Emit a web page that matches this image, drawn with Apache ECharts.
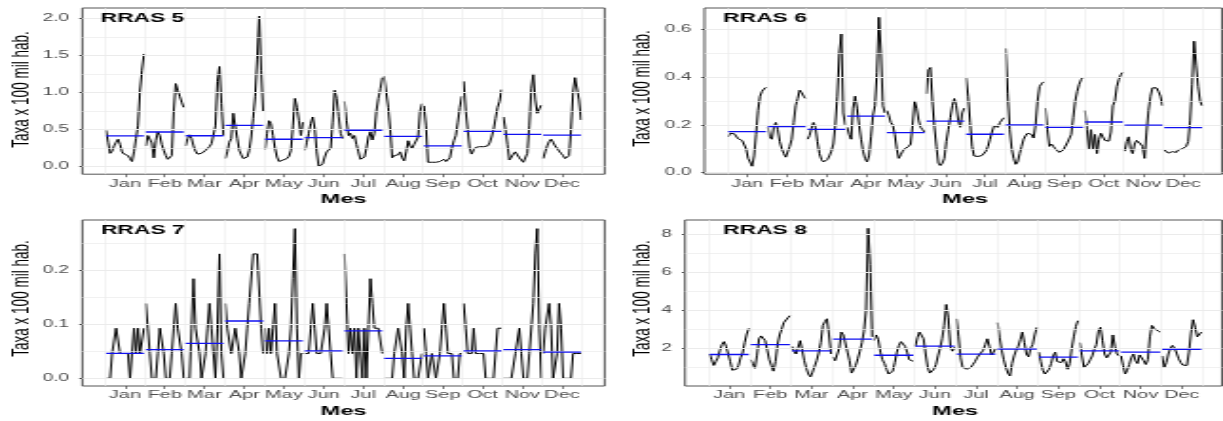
<!DOCTYPE html>
<html>
<head>
<meta charset="utf-8">
<script src="https://cdn.jsdelivr.net/npm/echarts@6.0.0/dist/echarts.min.js"></script>
<style>
  html, body { margin: 0; padding: 0; background: #fff; overflow: hidden; }
  #stage { width: 1223px; height: 421px; overflow: hidden; position: relative; background: #fff; }
  #chart { width: 644px; height: 421px; transform-origin: 0 0; }
</style>
</head>
<body>
<div id="stage"><div id="chart"></div></div>
<script>
// Month labels of the seasonal subseries axis
const monthNames = ['Jan', 'Feb', 'Mar', 'Apr', 'May', 'Jun', 'Jul', 'Aug', 'Sep', 'Oct', 'Nov', 'Dec'];

// Rate per 100k inhabitants, one sub-array per month, one value per year
const rras5 = [
  [0.49,0.33,0.18,0.21,0.28,0.33,0.37,0.30,0.20,0.17,0.16,0.15,0.11,0.07,0.20,0.38,0.55,1.02,1.30,1.52],
  [0.28,0.42,0.44,0.32,0.12,0.35,0.47,0.42,0.30,0.22,0.15,0.10,0.10,0.15,0.75,1.12,1.03,0.95,0.87,0.80],
  [0.28,0.38,0.43,0.38,0.28,0.21,0.17,0.16,0.18,0.20,0.22,0.24,0.27,0.31,0.32,0.55,1.15,1.35,0.85,0.42],
  [0.11,0.20,0.33,0.38,0.72,0.55,0.38,0.22,0.16,0.11,0.10,0.13,0.22,0.40,0.65,0.95,1.45,2.03,1.30,0.75],
  [0.23,0.45,0.62,0.58,0.42,0.25,0.13,0.07,0.08,0.09,0.10,0.11,0.14,0.22,0.55,0.92,0.80,0.62,0.42,0.60],
  [0.22,0.33,0.45,0.58,0.67,0.52,0.20,0.00,0.00,0.04,0.13,0.20,0.20,0.25,0.60,1.03,0.92,0.68,0.45,0.38],
  [0.88,0.62,0.42,0.45,0.38,0.42,0.30,0.20,0.10,0.08,0.13,0.25,0.40,0.47,0.36,0.45,0.75,0.92,1.05,1.20],
  [1.22,1.00,0.80,0.50,0.12,0.15,0.14,0.16,0.20,0.12,0.08,0.20,0.35,0.28,0.25,0.30,0.28,0.40,0.75,0.85],
  [0.82,0.55,0.06,0.06,0.06,0.06,0.06,0.07,0.07,0.09,0.10,0.07,0.08,0.12,0.25,0.35,0.42,0.60,0.80,0.95],
  [1.15,0.76,0.50,0.25,0.17,0.23,0.26,0.26,0.27,0.27,0.27,0.27,0.28,0.32,0.40,0.50,0.65,0.80,0.88,1.04],
  [0.67,0.50,0.30,0.09,0.07,0.17,0.20,0.16,0.12,0.09,0.06,0.05,0.18,0.55,1.05,1.25,0.90,0.72,0.78,0.83],
  [0.11,0.20,0.28,0.34,0.37,0.33,0.28,0.25,0.21,0.18,0.15,0.11,0.10,0.15,0.50,1.00,1.20,1.22,0.90,0.63]
];

const rras6 = [
  [0.150,0.165,0.167,0.163,0.155,0.142,0.138,0.135,0.140,0.100,0.060,0.045,0.027,0.070,0.160,0.260,0.320,0.340,0.350,0.357],
  [0.190,0.150,0.140,0.190,0.210,0.180,0.130,0.100,0.080,0.065,0.065,0.110,0.140,0.210,0.280,0.310,0.345,0.335,0.320,0.310],
  [0.140,0.155,0.185,0.210,0.190,0.130,0.080,0.055,0.045,0.045,0.055,0.070,0.090,0.120,0.200,0.320,0.500,0.580,0.250,0.200],
  [0.190,0.160,0.140,0.270,0.320,0.270,0.200,0.140,0.090,0.060,0.045,0.070,0.150,0.240,0.280,0.420,0.650,0.500,0.280,0.250],
  [0.260,0.240,0.210,0.200,0.160,0.100,0.060,0.075,0.090,0.100,0.105,0.110,0.120,0.200,0.300,0.270,0.220,0.190,0.180,0.170],
  [0.330,0.430,0.440,0.300,0.190,0.110,0.040,0.030,0.040,0.060,0.130,0.180,0.230,0.280,0.310,0.280,0.220,0.190,0.250,0.270],
  [0.400,0.320,0.210,0.110,0.070,0.067,0.068,0.070,0.072,0.076,0.090,0.110,0.140,0.170,0.195,0.200,0.190,0.210,0.220,0.230],
  [0.520,0.330,0.180,0.100,0.060,0.035,0.045,0.080,0.110,0.140,0.155,0.165,0.170,0.160,0.145,0.200,0.300,0.360,0.372,0.380],
  [0.270,0.180,0.110,0.120,0.110,0.100,0.095,0.085,0.080,0.095,0.110,0.125,0.130,0.160,0.230,0.300,0.340,0.370,0.390,0.400],
  [0.260,0.180,0.100,0.180,0.100,0.160,0.080,0.140,0.165,0.150,0.135,0.130,0.132,0.170,0.280,0.300,0.360,0.390,0.410,0.420],
  [0.090,0.130,0.150,0.100,0.080,0.120,0.135,0.130,0.120,0.110,0.060,0.170,0.260,0.320,0.355,0.360,0.355,0.340,0.320,0.280],
  [0.095,0.088,0.082,0.085,0.088,0.080,0.085,0.095,0.100,0.100,0.095,0.110,0.130,0.220,0.370,0.550,0.450,0.360,0.300,0.280]
];

const rras7 = [
  [0,0,0,0.046,0.046,0.093,0.093,0.046,0.046,0.046,0.046,0.046,0,0,0.093,0.046,0.093,0.046,0.046,0.093],
  [0.139,0.093,0.046,0,0,0,0.046,0.093,0.093,0.046,0,0,0,0.046,0.093,0.139,0.093,0.093,0.046,0],
  [0,0,0,0.093,0.185,0.093,0.093,0.046,0,0,0.046,0.093,0.139,0.093,0.046,0,0.093,0.231,0.046,0],
  [0.139,0.093,0.093,0.046,0.046,0.093,0.093,0.046,0,0,0.046,0.093,0.139,0.139,0.231,0.231,0.231,0.231,0.093,0.046],
  [0.093,0.046,0.093,0.046,0.093,0.139,0.046,0.046,0,0,0,0,0.046,0.093,0.185,0.278,0.093,0,0.046,0.046],
  [0.046,0.046,0.046,0.093,0.139,0.093,0.046,0.046,0.046,0.046,0.093,0.139,0.093,0.046,0,0,0,0,0,0],
  [0.231,0.139,0.046,0.093,0.046,0.093,0,0.093,0.093,0,0.093,0,0.093,0.185,0.139,0.093,0.093,0.093,0.093,0.046],
  [0,0,0,0,0,0.046,0.046,0.093,0.093,0.046,0,0.093,0.139,0.093,0.046,0,0,0,0,0.046],
  [0.093,0.046,0,0,0.046,0.046,0,0,0.046,0.093,0.139,0.093,0.046,0.046,0.046,0,0,0,0.046,0.046],
  [0.139,0.093,0.046,0.046,0.046,0.093,0.046,0.046,0.046,0.046,0.046,0,0,0,0,0,0.046,0.093,0.093,0.093],
  [0,0,0,0,0,0,0.046,0.046,0.093,0.046,0,0,0,0.046,0.046,0.139,0.231,0.278,0.093,0],
  [0.046,0.093,0.093,0.139,0.093,0,0,0.046,0.139,0.093,0,0,0,0,0,0.046,0.046,0.046,0.046,0.046]
];

const rras8 = [
  [1.70,1.40,1.10,1.30,1.50,1.90,2.20,2.35,2.10,1.70,1.30,0.85,0.75,0.90,1.10,1.50,1.75,2.30,2.75,3.05],
  [1.40,1.20,0.95,1.60,2.50,2.65,2.55,2.40,1.90,1.40,1.10,0.80,1.30,2.20,2.70,3.00,3.35,3.45,3.60,3.72],
  [2.10,1.85,1.70,2.05,2.40,1.90,1.35,0.95,0.65,0.50,0.75,1.05,1.35,1.75,2.30,3.20,3.40,3.55,2.70,1.70],
  [1.55,1.35,1.25,2.00,2.85,2.70,2.60,1.80,1.35,0.70,0.65,1.10,1.45,1.85,2.30,2.90,4.00,8.30,6.40,2.60],
  [2.40,2.70,2.45,1.80,1.40,1.20,0.90,0.65,0.55,0.80,1.25,1.80,2.15,2.35,2.40,2.10,1.80,1.40,1.30,1.32],
  [2.10,2.55,2.85,2.95,2.50,1.70,1.00,0.70,0.62,0.90,1.15,1.60,2.00,2.50,3.20,4.30,3.60,2.10,1.85,2.05],
  [3.55,2.60,1.50,1.00,0.95,0.90,0.88,1.00,1.15,1.30,1.50,1.65,1.70,1.90,2.20,2.50,2.10,1.65,1.80,2.00],
  [3.35,2.55,1.90,1.40,1.00,0.70,0.55,1.20,1.60,1.90,2.10,2.45,2.85,2.30,1.70,1.55,2.00,2.20,2.70,3.10],
  [1.80,1.30,0.85,0.65,0.70,0.90,1.20,1.60,1.80,1.30,1.35,1.25,1.45,1.30,0.90,1.20,2.00,2.60,3.15,3.45],
  [2.30,1.60,1.00,1.05,1.20,1.40,1.60,1.95,2.20,2.90,3.10,2.40,1.70,1.50,1.45,1.80,2.70,2.10,1.70,1.60],
  [1.60,1.10,0.65,0.85,1.15,1.50,1.70,1.35,1.20,1.65,1.70,1.35,1.15,1.40,2.60,3.20,3.05,2.95,2.90,2.85],
  [1.60,1.00,1.25,1.70,2.00,2.15,2.00,1.75,1.45,1.25,1.12,1.10,1.10,1.80,2.80,3.50,3.10,2.60,2.70,2.85]
];

// Y tick labels and grid line values of each panel
const yTicks5 = [0, 0.5, 1, 1.5, 2];
const yGrid5 = [0, 0.25, 0.5, 0.75, 1, 1.25, 1.5, 1.75, 2];
const yTicks6 = [0, 0.2, 0.4, 0.6];
const yGrid6 = [0, 0.1, 0.2, 0.3, 0.4, 0.5, 0.6];
const yTicks7 = [0, 0.1, 0.2];
const yGrid7 = [0, 0.05, 0.1, 0.15, 0.2, 0.25];
const yTicks8 = [2, 4, 6, 8];
const yGrid8 = [1, 2, 3, 4, 5, 6, 7, 8];
const xTicks = [1.5, 2.5, 3.5, 4.5, 5.5, 6.5, 7.5, 8.5, 9.5, 10.5, 11.5, 12.5];
const xGrid = [1, 2, 3, 4, 5, 6, 7, 8, 9, 10, 11, 12, 13];

// The drawing is laid out narrow and widened horizontally
const SX = 1223 / 644;
const chartEl = document.getElementById('chart');
chartEl.style.transform = 'scaleX(' + SX + ')';

const FONT = '"Liberation Sans", Arial, Helvetica, sans-serif';
const MEAN_BLUE = '#1010f0';

const panels = [
  { name: 'RRAS 5', data: rras5, L: 82.35, R: 604.7, T: 8, B: 174.2, xmax: 13.5746,
    ymin: -0.101, ymax: 2.139, ticks: yTicks5, grid: yGrid5, fmt: v => v.toFixed(1),
    titlePos: [100.7, 18.4], yTitlePos: [22.2, 89.5], mesPos: [343.5, 199.5] },
  { name: 'RRAS 6', data: rras6, L: 704.5, R: 1222, T: 8, B: 174.2, xmax: 13.48,
    ymin: -0.0063, ymax: 0.689, ticks: yTicks6, grid: yGrid6, fmt: v => v.toFixed(1),
    titlePos: [723.3, 18.4], yTitlePos: [643, 88.5], mesPos: [965, 199.5] },
  { name: 'RRAS 7', data: rras7, L: 82.35, R: 604.7, T: 220, B: 386, xmax: 13.5746,
    ymin: -0.0143, ymax: 0.294, ticks: yTicks7, grid: yGrid7, fmt: v => v.toFixed(1),
    titlePos: [101, 230.3], yTitlePos: [22.2, 298.5], mesPos: [343.5, 411.7] },
  { name: 'RRAS 8', data: rras8, L: 685, R: 1222, T: 220, B: 386, xmax: 13.48,
    ymin: 0.021, ymax: 8.735, ticks: yTicks8, grid: yGrid8, fmt: v => String(Math.round(v)),
    titlePos: [723.3, 230.3], yTitlePos: [643, 298.5], mesPos: [955, 411.7] }
];

const grids = [], xAxes = [], yAxes = [], series = [], graphics = [];

panels.forEach((p, k) => {
  grids.push({
    left: p.L / SX, width: (p.R - p.L) / SX, top: p.T, height: p.B - p.T,
    show: true, borderColor: '#555', borderWidth: 1, backgroundColor: '#fff'
  });
  xAxes.push({
    type: 'value', gridIndex: k, min: 0.4274, max: p.xmax,
    axisLine: { show: false, onZero: false },
    splitLine: { show: false },
    axisTick: { show: true, customValues: xTicks, length: 3, lineStyle: { color: '#333', width: 0.6 } },
    axisLabel: {
      customValues: xTicks, margin: 4, fontSize: 10.5, color: '#4d4d4d', fontFamily: FONT,
      formatter: v => monthNames[Math.round(v - 1.5)]
    }
  });
  yAxes.push({
    type: 'value', gridIndex: k, min: p.ymin, max: p.ymax,
    axisLine: { show: false, onZero: false },
    splitLine: { show: false },
    axisTick: { show: true, customValues: p.ticks, length: 3 / SX, lineStyle: { color: '#333', width: 1 } },
    axisLabel: {
      customValues: p.ticks, margin: 7, fontSize: 10, color: '#4d4d4d', fontFamily: FONT,
      formatter: v => p.fmt(v)
    }
  });

  // panel grid lines
  const lines = p.grid.map(v => ({ yAxis: v, lineStyle: { width: p.ticks.indexOf(v) >= 0 ? 1.1 : 0.7 } }))
    .concat(xGrid.map(v => ({ xAxis: v, lineStyle: { width: 0.55 } })));
  series.push({
    type: 'line', xAxisIndex: k, yAxisIndex: k, z: 1, silent: true, animation: false,
    data: [[1, p.ticks[0]]], showSymbol: false, lineStyle: { opacity: 0 },
    markLine: {
      silent: true, animation: false, symbol: ['none', 'none'], label: { show: false },
      lineStyle: { color: '#ebebeb', type: 'solid', width: 1 },
      emphasis: { disabled: true },
      data: lines
    }
  });

  // black yearly lines of every month
  p.data.forEach((vals, m) => {
    const s = m + 1;
    const step = 1 / ((vals.length - 1) * 1.05);
    series.push({
      type: 'line', xAxisIndex: k, yAxisIndex: k, z: 3, silent: true, animation: false,
      showSymbol: false, smooth: false, color: '#000',
      lineStyle: { color: '#000', width: 1 },
      data: vals.map((v, i) => [s + 0.025 + i * step, v])
    });
  });

  // blue monthly means, drawn on top
  p.data.forEach((vals, m) => {
    const s = m + 1;
    const step = 1 / ((vals.length - 1) * 1.05);
    const mean = vals.reduce((a, b) => a + b, 0) / vals.length;
    series.push({
      type: 'line', xAxisIndex: k, yAxisIndex: k, z: 5, silent: true, animation: false,
      showSymbol: false, color: MEAN_BLUE,
      lineStyle: { color: MEAN_BLUE, width: 1.3, opacity: 1 },
      data: [[s + 0.025, mean], [s + 0.025 + (vals.length - 1) * step, mean]]
    });
  });

  graphics.push({
    type: 'text', x: p.titlePos[0] / SX, y: p.titlePos[1], z: 10,
    style: { text: p.name, fontSize: 12, fontWeight: 'bold', fontFamily: FONT, fill: '#000',
             textAlign: 'left', textVerticalAlign: 'middle', align: 'left', verticalAlign: 'middle' }
  });
  graphics.push({
    type: 'text', x: p.yTitlePos[0] / SX, y: p.yTitlePos[1], rotation: Math.PI / 2, z: 10,
    style: { text: 'Taxa x 100 mil hab.', fontSize: 13.5, fontFamily: FONT, fill: '#000',
             textAlign: 'center', textVerticalAlign: 'middle', align: 'center', verticalAlign: 'middle' }
  });
  graphics.push({
    type: 'text', x: p.mesPos[0] / SX, y: p.mesPos[1], z: 10,
    style: { text: 'Mes', fontSize: 12.5, fontWeight: 'bold', fontFamily: FONT, fill: '#000',
             textAlign: 'center', textVerticalAlign: 'middle', align: 'center', verticalAlign: 'middle' }
  });
});

const chart = echarts.init(chartEl, null, { renderer: 'canvas' });
chart.setOption({
  animation: false,
  backgroundColor: '#fff',
  grid: grids,
  xAxis: xAxes,
  yAxis: yAxes,
  series: series,
  graphic: graphics
});
</script>
</body>
</html>
